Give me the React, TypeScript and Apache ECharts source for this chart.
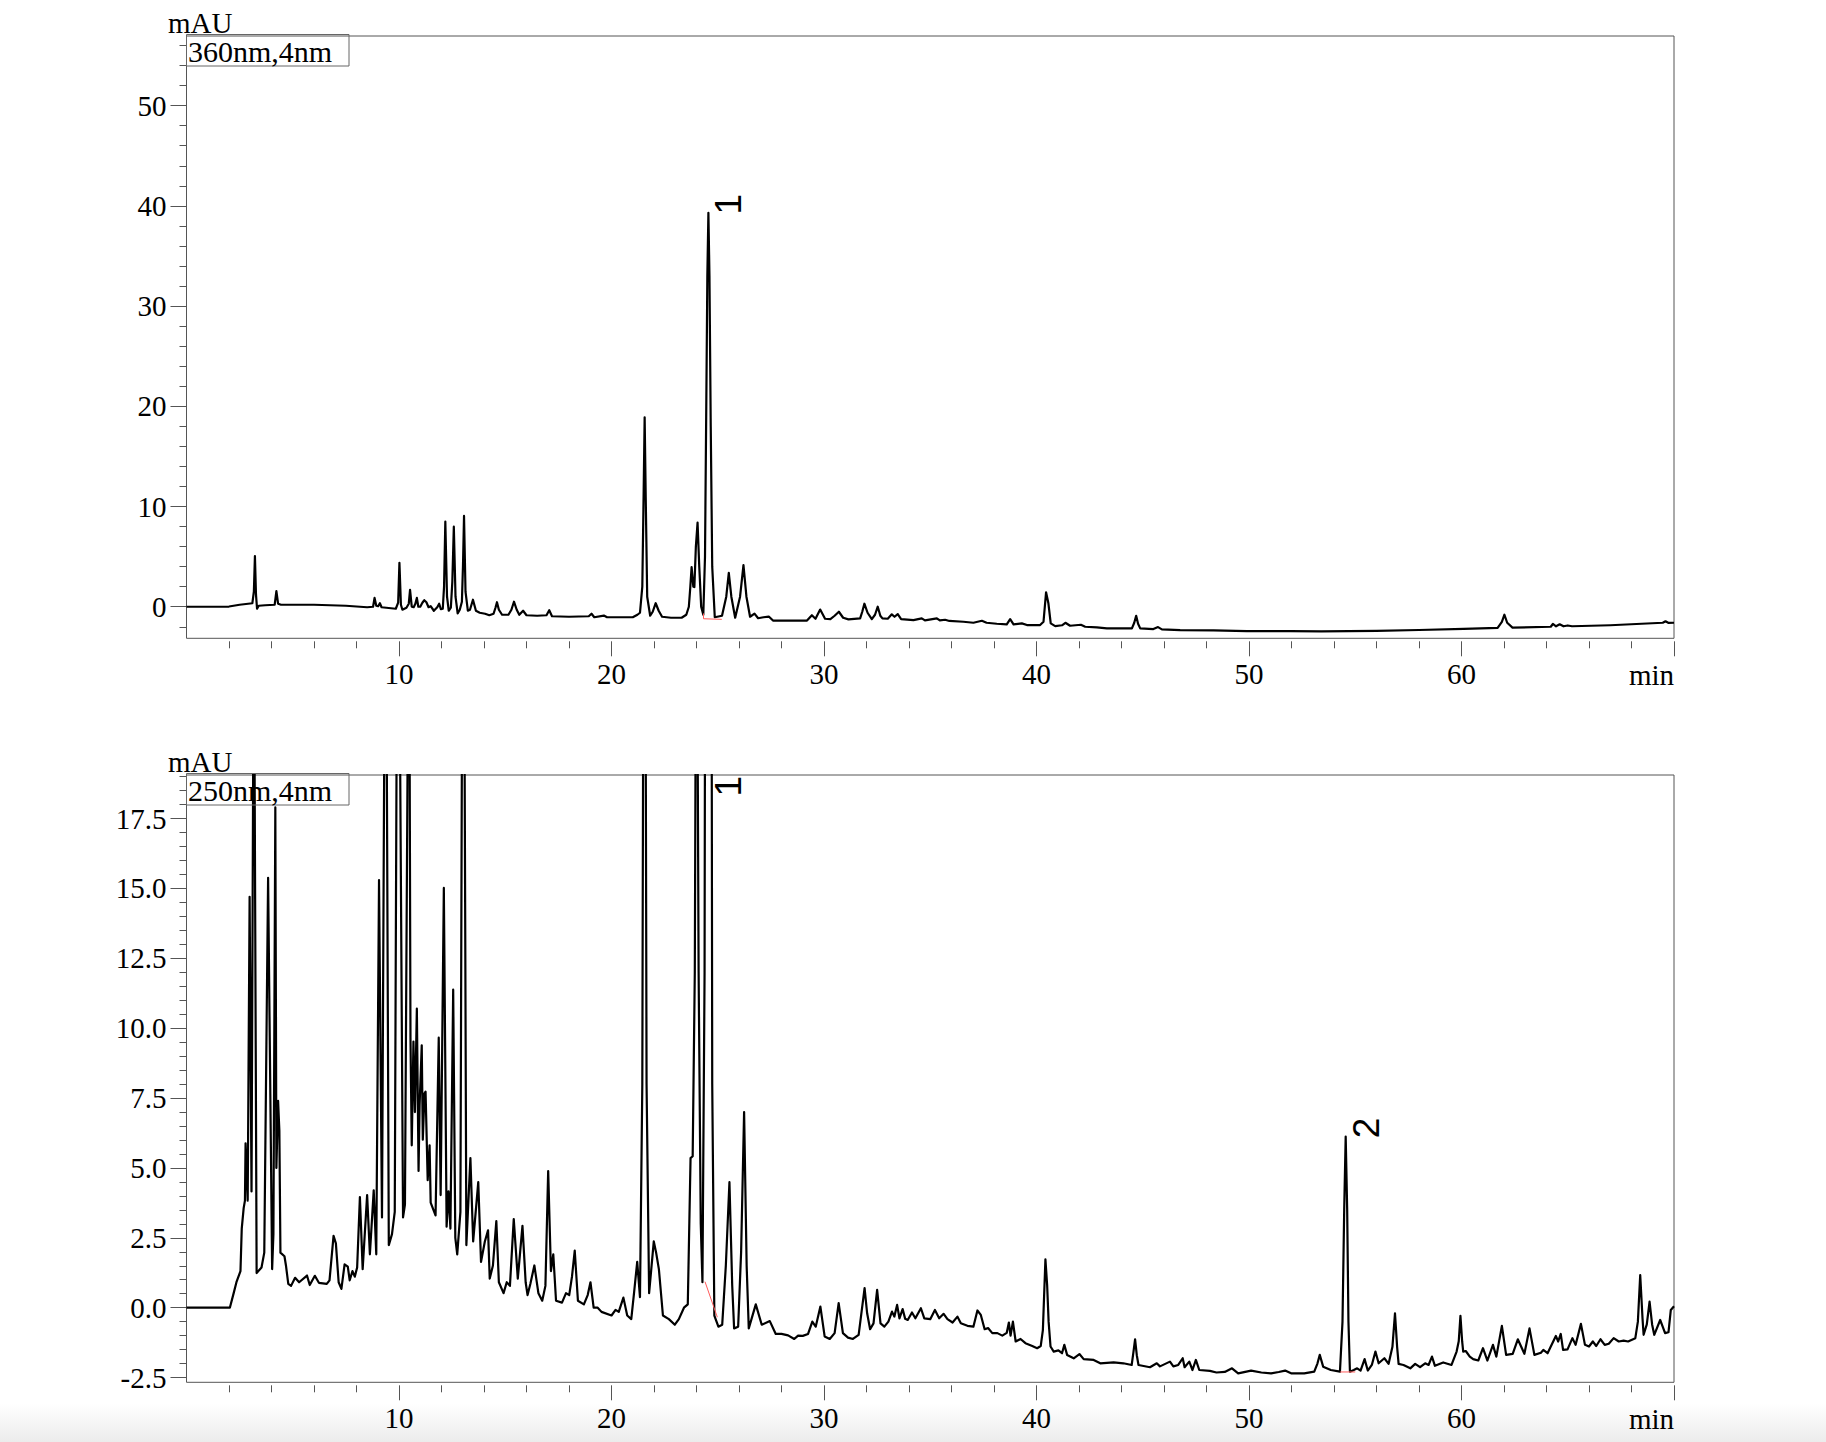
import React, { useEffect, useRef } from "react";
import * as echarts from "echarts";

// ---------- DATA ----------
// 360 nm trace [time (min), mAU]
const trace360: number[][] = [
  [0,0],[2.0,0.02],[2.5,0.2],[3.1,0.35],[3.17,1.5],[3.22,5.05],[3.27,1.2],[3.32,-0.2],[3.4,0.1],[3.7,0.15],[4.15,0.2],[4.23,1.55],[4.31,0.3],[4.45,0.2],
  [6.0,0.2],[7.5,0.1],[8.5,-0.05],[8.78,0.0],[8.85,0.88],[8.93,0.1],[9.02,0.05],[9.1,0.35],[9.18,-0.05],[9.85,-0.2],[9.96,0.4],[10.02,4.39],[10.09,0.2],
  [10.16,-0.3],[10.35,-0.1],[10.46,0.3],[10.52,1.68],[10.6,0.0],[10.69,-0.05],[10.77,0.3],[10.84,0.88],[10.91,0.0],[11.0,0.0],[11.1,0.4],[11.19,0.65],
  [11.29,0.45],[11.39,-0.05],[11.49,0.05],[11.64,-0.4],[11.8,-0.05],[11.89,0.3],[11.97,-0.25],[12.06,-0.2],[12.12,2.0],[12.18,8.49],[12.26,1.0],
  [12.34,-0.4],[12.44,-0.1],[12.51,2.5],[12.58,7.99],[12.66,1.0],[12.76,-0.66],[12.86,-0.3],[12.96,0.5],[13.01,4.0],[13.06,9.06],[13.13,1.5],
  [13.24,-0.4],[13.34,-0.3],[13.48,0.7],[13.62,-0.4],[13.8,-0.6],[14.05,-0.7],[14.25,-0.85],[14.45,-0.7],[14.54,-0.1],[14.61,0.45],[14.7,-0.3],
  [14.85,-0.8],[15.15,-0.8],[15.29,-0.3],[15.41,0.5],[15.54,-0.3],[15.66,-0.8],[15.84,-0.4],[16.0,-0.85],[16.5,-0.9],[16.94,-0.85],[17.07,-0.35],
  [17.2,-0.95],[18.0,-1.0],[18.93,-0.95],[19.06,-0.7],[19.19,-1.05],[19.64,-0.88],[19.79,-1.05],[21.0,-1.05],[21.22,-0.8],[21.34,-0.6],[21.45,2.0],
  [21.51,11.0],[21.56,18.9],[21.61,11.0],[21.68,1.0],[21.82,-0.9],[21.94,-0.5],[22.08,0.35],[22.22,-0.4],[22.38,-1.0],[22.8,-1.1],[23.3,-1.1],
  [23.52,-0.8],[23.64,0.0],[23.71,2.0],[23.77,3.95],[23.85,2.0],[23.9,1.96],[23.97,6.0],[24.05,8.39],[24.13,4.0],[24.22,0.0],[24.32,-0.8],[24.4,5.0],
  [24.46,20.0],[24.51,33.0],[24.56,39.3],[24.61,33.0],[24.67,18.0],[24.74,4.0],[24.86,-1.05],[25.2,-0.9],[25.4,1.0],[25.52,3.38],[25.64,1.0],
  [25.82,-1.1],[26.05,1.0],[26.21,4.15],[26.35,1.0],[26.52,-1.0],[26.73,-0.68],[26.9,-1.15],[27.15,-1.05],[27.4,-0.98],[27.6,-1.38],[29.2,-1.38],
  [29.43,-0.85],[29.6,-1.2],[29.82,-0.28],[30.05,-1.2],[30.3,-1.23],[30.5,-0.9],[30.7,-0.5],[30.9,-1.1],[31.15,-1.26],[31.7,-1.16],[31.8,-0.5],
  [31.9,0.3],[32.05,-0.6],[32.25,-1.23],[32.4,-0.8],[32.53,0.0],[32.65,-0.9],[32.75,-1.16],[33.0,-1.2],[33.19,-0.76],[33.32,-1.0],[33.47,-0.73],
  [33.63,-1.23],[34.21,-1.33],[34.6,-1.16],[34.75,-1.36],[35.31,-1.16],[35.45,-1.37],[35.7,-1.3],[35.9,-1.42],[36.56,-1.5],[37.03,-1.6],[37.43,-1.4],
  [37.65,-1.6],[38.13,-1.7],[38.6,-1.76],[38.76,-1.23],[38.92,-1.76],[39.31,-1.66],[39.55,-1.83],[40.17,-1.83],[40.33,-1.5],[40.45,1.44],[40.56,0.34],
  [40.67,-1.66],[40.88,-1.93],[41.2,-1.85],[41.36,-1.6],[41.58,-1.9],[42.09,-1.8],[42.29,-2.0],[42.84,-2.06],[43.31,-2.16],[44.49,-2.16],[44.6,-1.6],
  [44.69,-0.9],[44.78,-1.7],[44.88,-2.16],[45.5,-2.23],[45.72,-2.03],[45.9,-2.26],[46.76,-2.33],[48.33,-2.36],[49.9,-2.43],[51.94,-2.43],[53.4,-2.45],
  [56.0,-2.4],[58.0,-2.32],[60.1,-2.2],[61.7,-2.1],[61.9,-1.5],[62.02,-0.8],[62.15,-1.6],[62.4,-2.08],[64.2,-2.0],[64.3,-1.72],[64.45,-1.95],
  [64.62,-1.75],[64.8,-1.95],[65.0,-1.87],[65.2,-1.95],[67.0,-1.85],[69.47,-1.6],[69.6,-1.45],[69.75,-1.62],[70,-1.6]
];

// 250 nm trace [time (min), mAU]
const trace250: number[][] = [
  [0,0],[2.04,0.0],[2.22,0.52],[2.35,0.91],[2.54,1.31],[2.6,2.83],[2.69,3.56],[2.75,3.83],[2.78,5.88],[2.88,3.83],[2.97,14.7],[3.06,4.16],[3.17,26],
  [3.3,1.24],[3.53,1.44],[3.66,1.97],[3.84,15.38],[4.03,1.38],[4.09,2.63],[4.18,17.9],[4.23,5.0],[4.31,7.4],[4.37,6.34],[4.42,1.97],[4.61,1.84],
  [4.68,1.51],[4.79,0.85],[4.92,0.78],[5.11,1.07],[5.3,0.91],[5.67,1.15],[5.8,0.81],[6.04,1.14],[6.23,0.89],[6.6,0.85],[6.73,0.98],[6.92,2.57],
  [7.03,2.3],[7.16,0.91],[7.29,0.67],[7.44,1.55],[7.59,1.47],[7.68,0.98],[7.81,1.31],[7.92,1.11],[8.03,1.44],[8.16,3.96],[8.29,1.38],[8.5,4.03],
  [8.63,1.91],[8.81,4.2],[8.93,1.91],[9.06,15.3],[9.2,3.23],[9.37,30],[9.52,2.24],[9.67,2.63],[9.8,3.43],[9.95,32],[10.19,3.23],[10.28,3.69],
  [10.47,28],[10.54,9.66],[10.6,5.81],[10.68,9.52],[10.75,7.0],[10.84,10.7],[10.92,4.89],[10.97,7.27],[11.07,9.39],[11.12,6.01],[11.2,7.67],
  [11.25,7.73],[11.35,4.56],[11.44,5.81],[11.49,3.76],[11.72,3.3],[11.87,9.66],[11.96,4.03],[12.11,15.02],[12.24,2.9],[12.33,4.16],[12.42,2.83],
  [12.55,11.38],[12.65,2.5],[12.74,1.91],[12.89,3.43],[13.02,34],[13.17,2.24],[13.36,5.35],[13.49,2.37],[13.73,4.49],[13.86,1.64],[14.04,2.37],
  [14.19,2.77],[14.27,1.04],[14.42,1.51],[14.58,3.1],[14.7,0.91],[14.92,0.52],[15.07,0.91],[15.22,0.78],[15.4,3.17],[15.59,1.04],[15.81,2.93],
  [15.96,0.91],[16.05,0.45],[16.18,0.85],[16.37,1.51],[16.56,0.52],[16.74,0.25],[16.89,0.78],[17.02,4.89],[17.15,1.31],[17.26,1.91],[17.39,0.25],
  [17.67,0.18],[17.86,0.52],[18.01,0.45],[18.14,1.11],[18.27,2.04],[18.42,0.25],[18.7,0.12],[18.88,0.45],[19.01,0.91],[19.16,0.0],[19.35,0.0],
  [19.53,-0.15],[20.0,-0.28],[20.19,-0.08],[20.34,-0.15],[20.56,0.36],[20.74,-0.28],[20.93,-0.41],[21.06,0.52],[21.21,1.64],[21.34,0.38],[21.45,8],
  [21.55,40],[21.65,8],[21.77,0.52],[21.99,2.37],[22.1,1.97],[22.23,1.38],[22.42,-0.28],[22.7,-0.41],[22.98,-0.61],[23.17,-0.41],[23.41,0.0],
  [23.59,0.12],[23.72,5.35],[23.82,5.42],[23.92,12],[24.0,30],[24.1,12],[24.2,3],[24.28,0.91],[24.38,12],[24.46,50],[24.56,120],[24.66,50],
  [24.74,8],[24.84,-0.28],[25.03,-0.68],[25.21,-0.61],[25.38,1.5],[25.55,4.49],[25.68,0.8],[25.77,-0.74],[25.96,-0.68],[26.1,2.0],[26.24,7.0],
  [26.36,1.5],[26.46,-0.74],[26.79,0.12],[27.07,-0.61],[27.45,-0.48],[27.73,-0.94],
  [28.0,-0.94],[28.31,-0.99],[28.6,-1.12],[28.78,-1.0],[29.0,-1.01],[29.25,-0.94],[29.45,-0.5],[29.61,-0.68],[29.83,0.04],[30.03,-1.03],
  [30.27,-1.12],[30.5,-0.91],[30.69,0.16],[30.89,-0.91],[31.13,-1.07],[31.36,-1.12],[31.63,-0.97],[31.91,0.7],[32.03,-0.2],[32.17,-0.77],
  [32.33,-0.56],[32.5,0.64],[32.66,-0.56],[32.84,-0.68],[33.03,-0.5],[33.2,-0.14],[33.31,-0.32],[33.44,0.1],[33.55,-0.38],[33.7,-0.05],
  [33.82,-0.4],[33.94,-0.44],[34.14,-0.17],[34.3,-0.38],[34.56,-0.02],[34.72,-0.38],[35.0,-0.41],[35.22,-0.08],[35.42,-0.38],[35.63,-0.22],
  [35.81,-0.41],[36.05,-0.53],[36.28,-0.32],[36.44,-0.56],[36.75,-0.65],[37.03,-0.68],[37.22,-0.1],[37.38,-0.26],[37.56,-0.77],[37.72,-0.73],
  [37.92,-0.91],[38.16,-0.91],[38.39,-1.0],[38.6,-0.9],[38.7,-0.53],[38.78,-1.0],[38.89,-0.5],[39.02,-1.21],[39.25,-1.12],[39.48,-1.27],
  [39.8,-1.37],[40.03,-1.45],[40.2,-1.37],[40.3,-0.8],[40.42,1.73],[40.5,0.82],[40.57,-0.5],[40.66,-1.39],[40.81,-1.57],[41.03,-1.53],
  [41.2,-1.63],[41.31,-1.33],[41.44,-1.69],[41.75,-1.81],[42.02,-1.66],[42.22,-1.84],[42.69,-1.87],[43.0,-1.99],[43.63,-1.96],[44.09,-1.99],
  [44.48,-2.05],[44.56,-1.6],[44.64,-1.13],[44.72,-1.7],[44.8,-2.05],[45.34,-2.13],[45.66,-1.99],[45.81,-2.1],[46.28,-1.93],[46.44,-2.1],
  [46.67,-2.05],[46.88,-1.81],[46.97,-2.13],[47.19,-1.93],[47.34,-2.23],[47.5,-1.87],[47.66,-2.23],[48.16,-2.26],[48.47,-2.32],[48.86,-2.3],
  [49.2,-2.17],[49.49,-2.35],[50.1,-2.25],[50.58,-2.32],[51.04,-2.35],[51.4,-2.3],[51.7,-2.25],[51.98,-2.35],[52.6,-2.35],[53.07,-2.29],
  [53.22,-2.0],[53.33,-1.69],[53.49,-2.11],[53.85,-2.23],[54.28,-2.29],[54.4,-0.5],[54.48,3.5],[54.55,6.12],[54.62,3.5],[54.68,-0.5],[54.75,-2.29],
  [54.93,-2.23],[55.09,-2.17],[55.25,-2.25],[55.44,-1.84],[55.59,-2.25],[55.78,-2.05],[55.95,-1.57],[56.1,-1.99],[56.37,-1.81],[56.57,-2.01],
  [56.75,-1.4],[56.87,-0.2],[56.97,-1.4],[57.04,-2.01],[57.27,-2.05],[57.59,-2.17],[57.82,-2.01],[58.05,-2.13],[58.29,-1.99],[58.45,-2.05],
  [58.61,-1.75],[58.75,-2.08],[59.14,-1.96],[59.53,-2.05],[59.77,-1.57],[59.87,-1.2],[59.95,-0.29],[60.03,-1.2],[60.08,-1.57],[60.2,-1.55],
  [60.39,-1.75],[60.55,-1.84],[60.79,-1.89],[61.01,-1.45],[61.22,-1.89],[61.48,-1.33],[61.64,-1.75],[61.9,-0.65],[62.1,-1.69],[62.41,-1.65],
  [62.65,-1.13],[62.96,-1.65],[63.2,-0.74],[63.43,-1.69],[63.74,-1.61],[63.85,-1.51],[64.05,-1.63],[64.44,-1.01],[64.55,-1.21],[64.67,-0.94],
  [64.78,-1.51],[64.99,-1.49],[65.22,-1.09],[65.37,-1.33],[65.62,-0.58],[65.81,-1.33],[66.0,-1.39],[66.18,-1.21],[66.34,-1.37],[66.54,-1.13],
  [66.74,-1.33],[66.93,-1.29],[67.16,-1.09],[67.4,-1.21],[67.63,-1.18],[67.84,-1.21],[68.18,-1.09],[68.3,-0.5],[68.41,1.17],[68.52,-0.4],
  [68.57,-0.97],[68.72,-0.6],[68.85,0.22],[68.97,-0.6],[69.07,-0.97],[69.35,-0.44],[69.58,-0.91],[69.74,-0.88],[69.85,-0.08],[70,0.05]
];

// integration baselines (red)
const base360_1: number[][] = [[24.33,-0.67],[24.33,-1.2],[25.19,-1.26]];
const base250_1: number[][] = [[24.4,0.93],[24.98,-0.34]];
const base250_2: number[][] = [[54.29,-2.3],[55.0,-2.3]];

// peak annotations
const peaks360 = [{ name: "1", t: 24.56, v: 39.3 }];
const peaks250 = [{ name: "1", t: 24.56, v: 120 }, { name: "2", t: 54.55, v: 6.12 }];

// axes
const X_MIN = 0, X_MAX = 70;
const X_MAJOR_TICKS = [10, 20, 30, 40, 50, 60, 70];
const X_LABELS = [10, 20, 30, 40, 50, 60];
const X_MINOR_TICKS = [2,4,6,8,12,14,16,18,22,24,26,28,32,34,36,38,42,44,46,48,52,54,56,58,62,64,66,68];

const Y360_MIN = -3.15, Y360_MAX = 56.95;
const Y360_LABELS = [0, 10, 20, 30, 40, 50];
const Y360_MINOR = [-2,0,2,4,6,8,10,12,14,16,18,20,22,24,26,28,30,32,34,36,38,40,42,44,46,48,50,52,54,56];

const Y250_MIN = -2.67, Y250_MAX = 19.06;
const Y250_LABELS = [-2.5, 0, 2.5, 5, 7.5, 10, 12.5, 15, 17.5];
const Y250_MINOR = [-2.5,-2,-1.5,-1,-0.5,0,0.5,1,1.5,2,2.5,3,3.5,4,4.5,5,5.5,6,6.5,7,7.5,8,8.5,9,9.5,10,10.5,11,11.5,12,12.5,13,13.5,14,14.5,15,15.5,16,16.5,17,17.5,18,18.5,19];

const LEGEND = ["360nm,4nm", "250nm,4nm"];
const Y_NAME = "mAU";
const X_NAME = "min";

// ---------- LAYOUT / STYLE ----------
const SERIF = '"Liberation Serif", "Times New Roman", serif';
const FS = 29;
const AX = "#555";
const GRIDS = [
  { left: 186.5, top: 36, width: 1487.5, height: 602.3 },
  { left: 186.5, top: 775, width: 1487.5, height: 607.3 },
];

function xMajor(gi: number) {
  return {
    type: "value", gridIndex: gi, min: X_MIN, max: X_MAX, position: "bottom", offset: 3,
    axisLine: { show: false, onZero: false }, splitLine: { show: false },
    axisTick: { show: true, customValues: X_MAJOR_TICKS, length: 15, lineStyle: { color: AX, width: 1 } },
    axisLabel: { show: true, customValues: X_LABELS, margin: 18, fontFamily: SERIF, fontSize: FS, color: "#000" },
  };
}
function xMinor(gi: number) {
  return {
    type: "value", gridIndex: gi, min: X_MIN, max: X_MAX, position: "bottom", offset: 3,
    axisLine: { show: false, onZero: false }, splitLine: { show: false },
    axisTick: { show: true, customValues: X_MINOR_TICKS, length: 7, lineStyle: { color: AX, width: 1 } },
    axisLabel: { show: false },
  };
}
function yMajor(gi: number, min: number, max: number, labels: number[], fmt: (v: number) => string) {
  return {
    type: "value", gridIndex: gi, min, max, position: "left",
    axisLine: { show: false, onZero: false }, splitLine: { show: false },
    axisTick: { show: true, customValues: labels, length: 16, lineStyle: { color: AX, width: 1 } },
    axisLabel: { show: true, customValues: labels, margin: 20, fontFamily: SERIF, fontSize: FS, color: "#000", formatter: fmt },
  };
}
function yMinor(gi: number, min: number, max: number, ticks: number[]) {
  return {
    type: "value", gridIndex: gi, min, max, position: "left",
    axisLine: { show: false, onZero: false }, splitLine: { show: false },
    axisTick: { show: true, customValues: ticks, length: 7, lineStyle: { color: AX, width: 1 } },
    axisLabel: { show: false },
  };
}

export default function App() {
  const ref = useRef<HTMLDivElement>(null);
  useEffect(() => {
    document.body.style.margin = "0";
    const chart = echarts.init(ref.current as HTMLDivElement, null, { renderer: "svg", width: 1826, height: 1442 });
    const lineS = (data: number[][], xi: number, yi: number, color: string, w: number, z: number) => ({
      type: "line", data, xAxisIndex: xi, yAxisIndex: yi, showSymbol: false, symbol: "none",
      clip: true, silent: true, z, lineStyle: { color, width: w, join: "round" }, animation: false,
    });
    chart.setOption({
      animation: false,
      backgroundColor: "transparent",
      grid: GRIDS.map((g) => ({ ...g, show: true, borderColor: AX, borderWidth: 1, backgroundColor: "transparent", containLabel: false })),
      xAxis: [xMajor(0), xMinor(0), xMajor(1), xMinor(1)],
      yAxis: [
        yMajor(0, Y360_MIN, Y360_MAX, Y360_LABELS, (v: number) => String(v)),
        yMinor(0, Y360_MIN, Y360_MAX, Y360_MINOR),
        yMajor(1, Y250_MIN, Y250_MAX, Y250_LABELS, (v: number) => v.toFixed(1)),
        yMinor(1, Y250_MIN, Y250_MAX, Y250_MINOR),
      ],
      series: [
        lineS(trace360, 0, 0, "#000", 2.2, 2),
        lineS(base360_1, 0, 0, "#ff5a5a", 1, 3),
        lineS(trace250, 2, 2, "#000", 2.2, 2),
        lineS(base250_1, 2, 2, "#ff5a5a", 1, 3),
        lineS(base250_2, 2, 2, "#ff5a5a", 1, 3),
      ],
    });

    const elements: any[] = [];
    GRIDS.forEach((g, i) => {
      elements.push({
        type: "text", x: 168, y: g.top - 13.5,
        style: { text: Y_NAME, font: `${FS}px ${SERIF}`, fill: "#000", align: "left", verticalAlign: "middle" },
      });
      elements.push({
        type: "rect", shape: { x: g.left, y: g.top - 1.5, width: 162.5, height: 31.5 },
        style: { fill: "none", stroke: "#666", lineWidth: 1 }, z: 5,
      });
      elements.push({
        type: "text", x: g.left + 1.5, y: g.top + 15,
        style: { text: LEGEND[i], font: `${FS + 1}px ${SERIF}`, fill: "#000", align: "left", verticalAlign: "middle" }, z: 5,
      });
      elements.push({
        type: "text", x: g.left + g.width, y: g.top + g.height + 36.5,
        style: { text: X_NAME, font: `${FS}px ${SERIF}`, fill: "#000", align: "right", verticalAlign: "middle" },
      });
    });
    const addPeaks = (list: { name: string; t: number; v: number }[], si: number, gi: number) => {
      list.forEach((p) => {
        const pt = chart.convertToPixel({ seriesIndex: si }, [p.t, p.v]) as number[];
        const y = Math.max(pt[1] + 1.5, GRIDS[gi].top + 21.5);
        elements.push({
          type: "text", x: pt[0] + 20.5, y, rotation: Math.PI / 2, z: 10,
          style: { text: p.name, font: '37px "Liberation Sans", Arial, sans-serif', fill: "#000", align: "left", verticalAlign: "middle" },
        });
      });
    };
    addPeaks(peaks360, 0, 0);
    addPeaks(peaks250, 2, 1);
    chart.setOption({ graphic: { elements } });
    return () => chart.dispose();
  }, []);
  return (
    <div style={{ position: "relative", width: 1826, height: 1442, background: "#fff" }}>
      <div style={{ position: "absolute", left: 0, top: 1404, width: 1826, height: 38, background: "linear-gradient(#ffffff, #ececec)" }} />
      <div ref={ref} style={{ position: "absolute", left: 0, top: 0, width: 1826, height: 1442 }} />
    </div>
  );
}
